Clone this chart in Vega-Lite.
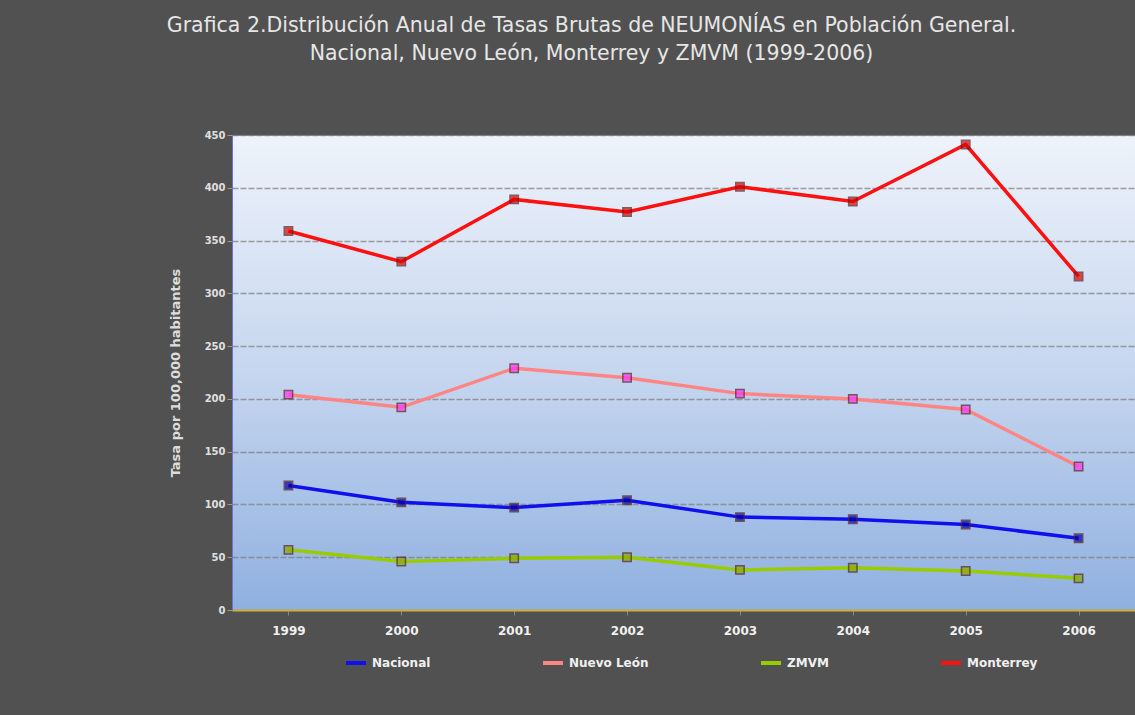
{
  "$schema": "https://vega.github.io/schema/vega-lite/v6.json",
  "width": 903,
  "height": 475,
  "autosize": {"type": "none"},
  "padding": {"left": 232, "top": 135, "right": 0, "bottom": 105},
  "background": "#515151",
  "title": {
    "text": ["Grafica 2.Distribución Anual de Tasas Brutas de NEUMONÍAS en Población General.", "Nacional, Nuevo León, Monterrey y ZMVM (1999-2006)"],
    "anchor": "middle",
    "dx": -92,
    "offset": 66,
    "font": "DejaVu Sans",
    "fontSize": 20.5,
    "fontWeight": "normal",
    "color": "#e6e6e6",
    "lineHeight": 28
  },
  "config": {
    "view": {
      "stroke": "#8a8a8a",
      "fill": {
        "gradient": "linear",
        "x1": 0, "y1": 0, "x2": 0, "y2": 1,
        "stops": [
          {"offset": 0, "color": "#eef3fb"},
          {"offset": 0.5, "color": "#c6d6ef"},
          {"offset": 1, "color": "#8fb0e0"}
        ]
      }
    },
    "axis": {"labelFont": "DejaVu Sans", "titleFont": "DejaVu Sans"}
  },
  "data": {
    "values": [
      {"anio": "1999", "serie": "Nacional", "tasa": 118},
      {"anio": "2000", "serie": "Nacional", "tasa": 102},
      {"anio": "2001", "serie": "Nacional", "tasa": 97},
      {"anio": "2002", "serie": "Nacional", "tasa": 104},
      {"anio": "2003", "serie": "Nacional", "tasa": 88},
      {"anio": "2004", "serie": "Nacional", "tasa": 86},
      {"anio": "2005", "serie": "Nacional", "tasa": 81},
      {"anio": "2006", "serie": "Nacional", "tasa": 68},
      {"anio": "1999", "serie": "Nuevo León", "tasa": 204},
      {"anio": "2000", "serie": "Nuevo León", "tasa": 192},
      {"anio": "2001", "serie": "Nuevo León", "tasa": 229},
      {"anio": "2002", "serie": "Nuevo León", "tasa": 220},
      {"anio": "2003", "serie": "Nuevo León", "tasa": 205},
      {"anio": "2004", "serie": "Nuevo León", "tasa": 200},
      {"anio": "2005", "serie": "Nuevo León", "tasa": 190},
      {"anio": "2006", "serie": "Nuevo León", "tasa": 136},
      {"anio": "1999", "serie": "ZMVM", "tasa": 57},
      {"anio": "2000", "serie": "ZMVM", "tasa": 46},
      {"anio": "2001", "serie": "ZMVM", "tasa": 49},
      {"anio": "2002", "serie": "ZMVM", "tasa": 50},
      {"anio": "2003", "serie": "ZMVM", "tasa": 38},
      {"anio": "2004", "serie": "ZMVM", "tasa": 40},
      {"anio": "2005", "serie": "ZMVM", "tasa": 37},
      {"anio": "2006", "serie": "ZMVM", "tasa": 30},
      {"anio": "1999", "serie": "Monterrey", "tasa": 359},
      {"anio": "2000", "serie": "Monterrey", "tasa": 330},
      {"anio": "2001", "serie": "Monterrey", "tasa": 389},
      {"anio": "2002", "serie": "Monterrey", "tasa": 377},
      {"anio": "2003", "serie": "Monterrey", "tasa": 401},
      {"anio": "2004", "serie": "Monterrey", "tasa": 387},
      {"anio": "2005", "serie": "Monterrey", "tasa": 441},
      {"anio": "2006", "serie": "Monterrey", "tasa": 316}
    ]
  },
  "encoding": {
    "x": {
      "field": "anio", "type": "ordinal",
      "scale": {"type": "point", "padding": 0.5},
      "axis": {
        "title": null, "labelAngle": 0, "labelColor": "#f0f0f0", "labelFontSize": 12,
        "labelFontWeight": "bold", "labelPadding": 10, "domainColor": "#c8b040",
        "domainWidth": 2, "tickColor": "#888", "grid": false
      }
    },
    "y": {
      "field": "tasa", "type": "quantitative",
      "scale": {"domain": [0, 450], "nice": false},
      "axis": {
        "values": [0, 50, 100, 150, 200, 250, 300, 350, 400, 450],
        "format": "d",
        "title": "Tasa por 100,000 habitantes",
        "titleColor": "#dddddd", "titleFontSize": 13, "titleFontWeight": "bold", "titlePadding": 22,
        "labelColor": "#e0e0e0", "labelFontSize": 10, "labelFontWeight": "bold",
        "gridColor": "#7a7a7a", "gridOpacity": 0.7, "gridWidth": 1.5, "gridDash": [6, 2],
        "domainColor": "#7070d0", "tickColor": "#999"
      }
    },
    "color": {
      "field": "serie", "type": "nominal",
      "scale": {
        "domain": ["Nacional", "Nuevo León", "ZMVM", "Monterrey"],
        "range": ["#1010ee", "#ff8585", "#99cc00", "#ff1010"]
      },
      "legend": {
        "orient": "none", "legendX": 112, "legendY": 516, "direction": "horizontal",
        "title": null, "symbolType": "stroke", "symbolStrokeWidth": 4, "symbolSize": 400,
        "labelColor": "#f0f0f0", "labelFontSize": 12, "labelFont": "DejaVu Sans",
        "labelFontWeight": "bold", "columnPadding": 104, "labelLimit": 200
      }
    }
  },
  "layer": [
    {"mark": {"type": "line", "strokeWidth": 3.5}},
    {
      "mark": {"type": "point", "filled": true, "size": 70, "shape": "square", "strokeWidth": 1.5, "stroke": "#552222"},
      "encoding": {
        "fill": {
          "field": "serie", "type": "nominal",
          "scale": {
            "domain": ["Nacional", "Nuevo León", "ZMVM", "Monterrey"],
            "range": ["#0000aa", "#ff33ff", "#88aa00", "#dd0000"]
          },
          "legend": null
        }
      }
    }
  ]
}
